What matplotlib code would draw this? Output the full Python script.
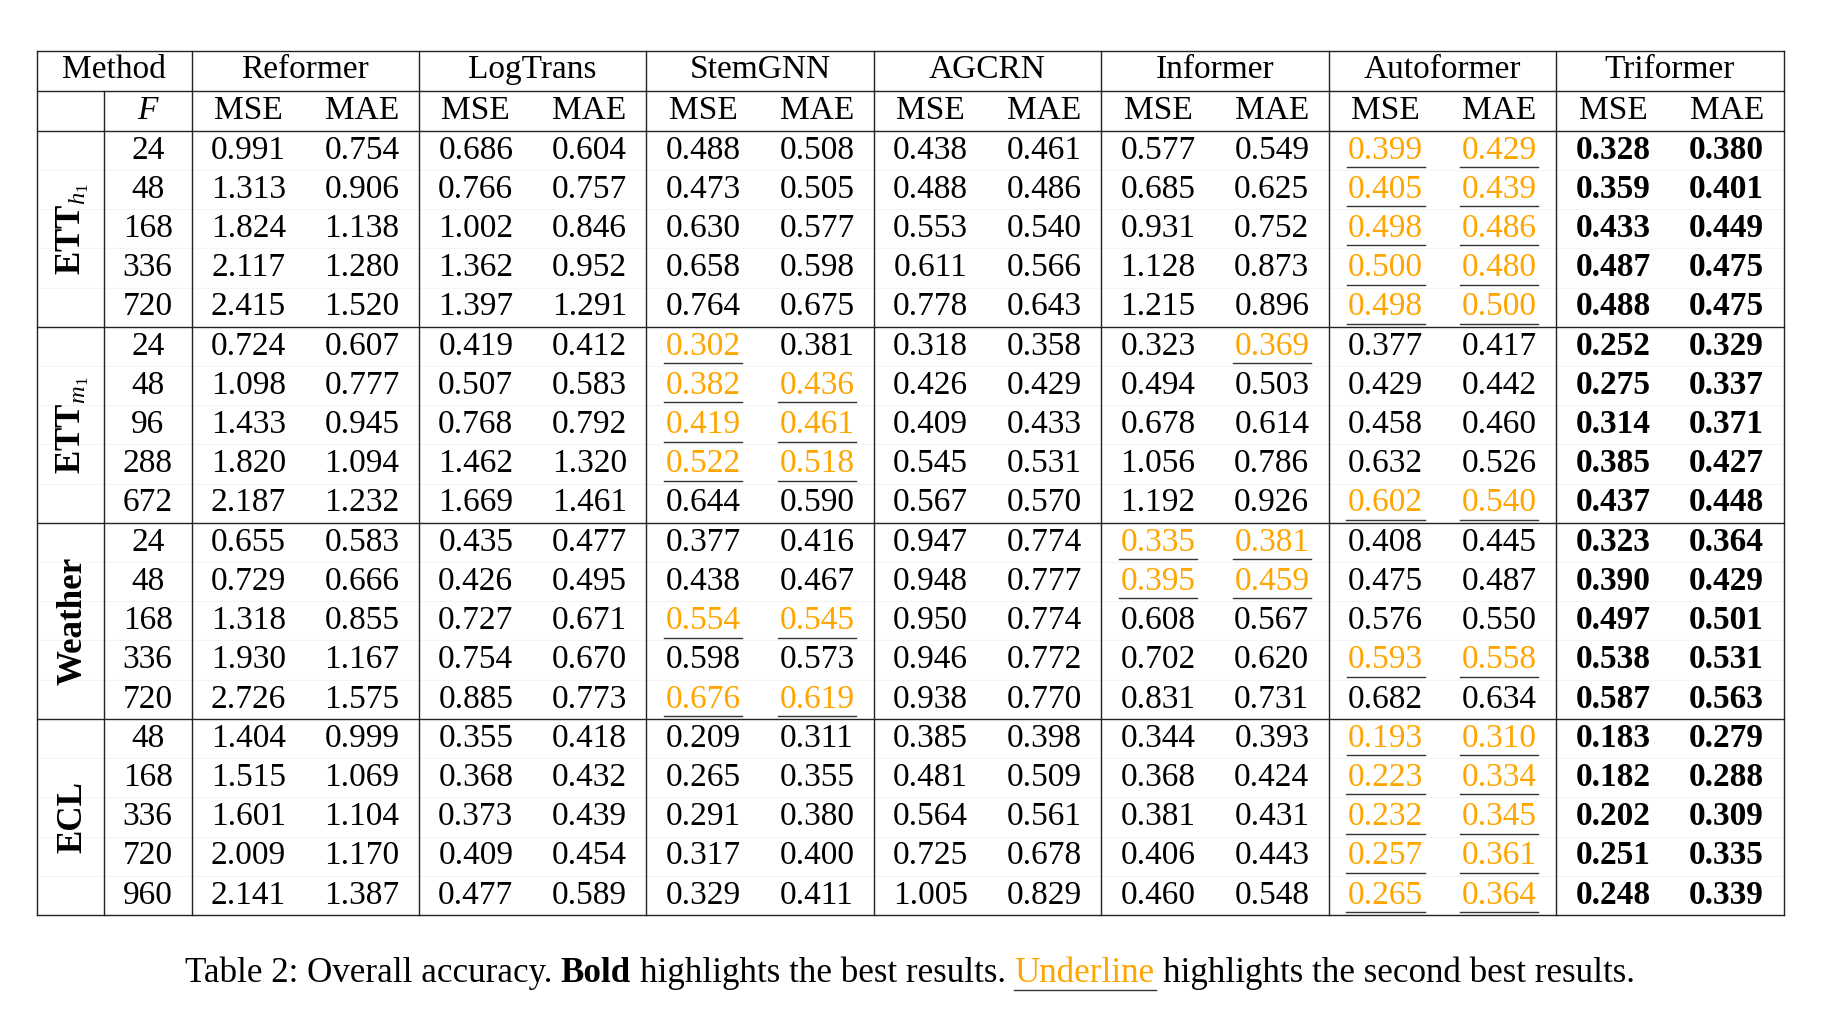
import matplotlib
matplotlib.use("Agg")
import matplotlib.pyplot as plt

plt.rcParams['font.family'] = ['Liberation Serif', 'DejaVu Serif']
plt.rcParams['mathtext.fontset'] = 'custom'
plt.rcParams['mathtext.rm'] = 'Liberation Serif'
plt.rcParams['mathtext.it'] = 'Liberation Serif:italic'
plt.rcParams['mathtext.bf'] = 'Liberation Serif:bold'

# ---------------- data ----------------
methods = ["Reformer", "LogTrans", "StemGNN", "AGCRN", "Informer", "Autoformer", "Triformer"]
metrics = ["MSE", "MAE"]
datasets = ["ETTh1", "ETTm1", "Weather", "ECL"]
dataset_labels = [r'$\mathbf{ETT}_{h_1}$', r'$\mathbf{ETT}_{m_1}$', 'Weather', 'ECL']

horizons_etth1 = [24, 48, 168, 336, 720]
horizons_ettm1 = [24, 48, 96, 288, 672]
horizons_weather = [24, 48, 168, 336, 720]
horizons_ecl = [48, 168, 336, 720, 960]

etth1_mse = {
    "Reformer": [0.991, 1.313, 1.824, 2.117, 2.415],
    "LogTrans": [0.686, 0.766, 1.002, 1.362, 1.397],
    "StemGNN": [0.488, 0.473, 0.630, 0.658, 0.764],
    "AGCRN": [0.438, 0.488, 0.553, 0.611, 0.778],
    "Informer": [0.577, 0.685, 0.931, 1.128, 1.215],
    "Autoformer": [0.399, 0.405, 0.498, 0.500, 0.498],
    "Triformer": [0.328, 0.359, 0.433, 0.487, 0.488],
}
etth1_mae = {
    "Reformer": [0.754, 0.906, 1.138, 1.280, 1.520],
    "LogTrans": [0.604, 0.757, 0.846, 0.952, 1.291],
    "StemGNN": [0.508, 0.505, 0.577, 0.598, 0.675],
    "AGCRN": [0.461, 0.486, 0.540, 0.566, 0.643],
    "Informer": [0.549, 0.625, 0.752, 0.873, 0.896],
    "Autoformer": [0.429, 0.439, 0.486, 0.480, 0.500],
    "Triformer": [0.380, 0.401, 0.449, 0.475, 0.475],
}
ettm1_mse = {
    "Reformer": [0.724, 1.098, 1.433, 1.820, 2.187],
    "LogTrans": [0.419, 0.507, 0.768, 1.462, 1.669],
    "StemGNN": [0.302, 0.382, 0.419, 0.522, 0.644],
    "AGCRN": [0.318, 0.426, 0.409, 0.545, 0.567],
    "Informer": [0.323, 0.494, 0.678, 1.056, 1.192],
    "Autoformer": [0.377, 0.429, 0.458, 0.632, 0.602],
    "Triformer": [0.252, 0.275, 0.314, 0.385, 0.437],
}
ettm1_mae = {
    "Reformer": [0.607, 0.777, 0.945, 1.094, 1.232],
    "LogTrans": [0.412, 0.583, 0.792, 1.320, 1.461],
    "StemGNN": [0.381, 0.436, 0.461, 0.518, 0.590],
    "AGCRN": [0.358, 0.429, 0.433, 0.531, 0.570],
    "Informer": [0.369, 0.503, 0.614, 0.786, 0.926],
    "Autoformer": [0.417, 0.442, 0.460, 0.526, 0.540],
    "Triformer": [0.329, 0.337, 0.371, 0.427, 0.448],
}
weather_mse = {
    "Reformer": [0.655, 0.729, 1.318, 1.930, 2.726],
    "LogTrans": [0.435, 0.426, 0.727, 0.754, 0.885],
    "StemGNN": [0.377, 0.438, 0.554, 0.598, 0.676],
    "AGCRN": [0.947, 0.948, 0.950, 0.946, 0.938],
    "Informer": [0.335, 0.395, 0.608, 0.702, 0.831],
    "Autoformer": [0.408, 0.475, 0.576, 0.593, 0.682],
    "Triformer": [0.323, 0.390, 0.497, 0.538, 0.587],
}
weather_mae = {
    "Reformer": [0.583, 0.666, 0.855, 1.167, 1.575],
    "LogTrans": [0.477, 0.495, 0.671, 0.670, 0.773],
    "StemGNN": [0.416, 0.467, 0.545, 0.573, 0.619],
    "AGCRN": [0.774, 0.777, 0.774, 0.772, 0.770],
    "Informer": [0.381, 0.459, 0.567, 0.620, 0.731],
    "Autoformer": [0.445, 0.487, 0.550, 0.558, 0.634],
    "Triformer": [0.364, 0.429, 0.501, 0.531, 0.563],
}
ecl_mse = {
    "Reformer": [1.404, 1.515, 1.601, 2.009, 2.141],
    "LogTrans": [0.355, 0.368, 0.373, 0.409, 0.477],
    "StemGNN": [0.209, 0.265, 0.291, 0.317, 0.329],
    "AGCRN": [0.385, 0.481, 0.564, 0.725, 1.005],
    "Informer": [0.344, 0.368, 0.381, 0.406, 0.460],
    "Autoformer": [0.193, 0.223, 0.232, 0.257, 0.265],
    "Triformer": [0.183, 0.182, 0.202, 0.251, 0.248],
}
ecl_mae = {
    "Reformer": [0.999, 1.069, 1.104, 1.170, 1.387],
    "LogTrans": [0.418, 0.432, 0.439, 0.454, 0.589],
    "StemGNN": [0.311, 0.355, 0.380, 0.400, 0.411],
    "AGCRN": [0.398, 0.509, 0.561, 0.678, 0.829],
    "Informer": [0.393, 0.424, 0.431, 0.443, 0.548],
    "Autoformer": [0.310, 0.334, 0.345, 0.361, 0.364],
    "Triformer": [0.279, 0.288, 0.309, 0.335, 0.339],
}

best_method = "Triformer"
# (dataset, method, metric, row indices) marked as second best (underlined)
second_best = [
    ("ETTh1", "Autoformer", "MSE", [0, 1, 2, 3, 4]),
    ("ETTh1", "Autoformer", "MAE", [0, 1, 2, 3, 4]),
    ("ETTm1", "StemGNN", "MSE", [0, 1, 2, 3]),
    ("ETTm1", "StemGNN", "MAE", [1, 2, 3]),
    ("ETTm1", "Informer", "MAE", [0]),
    ("ETTm1", "Autoformer", "MSE", [4]),
    ("ETTm1", "Autoformer", "MAE", [4]),
    ("Weather", "StemGNN", "MSE", [2, 4]),
    ("Weather", "StemGNN", "MAE", [2, 4]),
    ("Weather", "Informer", "MSE", [0, 1]),
    ("Weather", "Informer", "MAE", [0, 1]),
    ("Weather", "Autoformer", "MSE", [3]),
    ("Weather", "Autoformer", "MAE", [3]),
    ("ECL", "Autoformer", "MSE", [0, 1, 2, 3, 4]),
    ("ECL", "Autoformer", "MAE", [0, 1, 2, 3, 4]),
]

caption_parts = ["Table 2: Overall accuracy.", "Bold", "highlights the best results.",
                 "Underline", "highlights the second best results."]

all_horizons = [horizons_etth1, horizons_ettm1, horizons_weather, horizons_ecl]
all_values = {
    "ETTh1": {"MSE": etth1_mse, "MAE": etth1_mae},
    "ETTm1": {"MSE": ettm1_mse, "MAE": ettm1_mae},
    "Weather": {"MSE": weather_mse, "MAE": weather_mae},
    "ECL": {"MSE": ecl_mse, "MAE": ecl_mae},
}

# ---------------- layout ----------------
W, H = 1834, 1013
fig = plt.figure(figsize=(W / 100, H / 100), dpi=100)
ax = fig.add_axes([0, 0, 1, 1])
ax.set_xlim(0, W)
ax.set_ylim(H, 0)
ax.axis('off')

FS = 24
FS_LABEL = 25.2
FS_CAP = 25.2
ORANGE = '#FFA500'
LC = '#222222'
LW = 1.0

x_left, x_ds, x_f = 36.5, 104.0, 191.5
mw = (1783.5 - x_f) / len(methods)
y_top, y_h1, y_h2 = 50.5, 90.7, 130.7
n_rows = 5
rh = (915.0 - y_h2) / (len(datasets) * n_rows)
base_off = 27.8
x_right = x_f + mw * len(methods)
y_bottom = y_h2 + rh * n_rows * len(datasets)

# faint inner row lines
for g in range(len(datasets)):
    for r in range(1, n_rows):
        y = y_h2 + (g * n_rows + r) * rh
        ax.plot([x_left, x_right], [y, y], color='#f4f4f4', lw=0.8, zorder=1)

# horizontal rules
for y in [y_top, y_h1, y_h2] + [y_h2 + g * n_rows * rh for g in range(1, len(datasets) + 1)]:
    ax.plot([x_left, x_right], [y, y], color=LC, lw=LW, solid_capstyle='projecting', zorder=3)
# vertical rules
ax.plot([x_left, x_left], [y_top, y_bottom], color=LC, lw=LW, zorder=3)
ax.plot([x_ds, x_ds], [y_h1, y_bottom], color=LC, lw=LW, zorder=3)
for k in range(len(methods) + 1):
    x = x_f + k * mw
    ax.plot([x, x], [y_top, y_bottom], color=LC, lw=LW, zorder=3)

# headers
ax.text((x_left + x_f) / 2, y_top + base_off, "Method", ha='center', va='baseline', fontsize=FS)
ax.text((x_ds + x_f) / 2, y_h1 + base_off, "F", ha='center', va='baseline', fontsize=FS, style='italic')
for k, m in enumerate(methods):
    cx = x_f + k * mw
    ax.text(cx + mw / 2, y_top + base_off, m, ha='center', va='baseline', fontsize=FS)
    for j, met in enumerate(metrics):
        ax.text(cx + mw * (0.25 + 0.5 * j), y_h1 + base_off, met, ha='center', va='baseline', fontsize=FS)

# body
ul_texts = []
ul_lookup = {}
for ds, meth, met, rows in second_best:
    for r in rows:
        ul_lookup[(ds, meth, met, r)] = True

for g, ds in enumerate(datasets):
    gy0 = y_h2 + g * n_rows * rh
    label = dataset_labels[g]
    ax.text(73, gy0 + n_rows * rh / 2, label, rotation=90, ha='center', va='center',
            fontsize=FS_LABEL, fontweight='bold')
    for r in range(n_rows):
        yb = gy0 + r * rh + base_off
        ax.text((x_ds + x_f) / 2, yb, str(all_horizons[g][r]), ha='center', va='baseline', fontsize=FS)
        for k, m in enumerate(methods):
            for j, met in enumerate(metrics):
                v = all_values[ds][met][m][r]
                cx = x_f + k * mw + mw * (0.25 + 0.5 * j)
                is_ul = ul_lookup.get((ds, m, met, r), False)
                t = ax.text(cx, yb, f"{v:.3f}", ha='center', va='baseline', fontsize=FS,
                            fontweight='bold' if m == best_method else 'normal',
                            color=ORANGE if is_ul else 'black')
                if is_ul:
                    ul_texts.append((t, yb))

# caption
cap_y = 982
cap_styles = [('normal', 'black'), ('bold', 'black'), ('normal', 'black'),
              ('normal', ORANGE), ('normal', 'black')]
cap_texts = []
for part, (wt, col) in zip(caption_parts, cap_styles):
    cap_texts.append(ax.text(0, cap_y, part, ha='left', va='baseline', fontsize=FS_CAP,
                             fontweight=wt, color=col))

fig.canvas.draw()
renderer = fig.canvas.get_renderer()
inv = ax.transData.inverted()

def xspan(t):
    bb = t.get_window_extent(renderer)
    (x0, _), (x1, _) = inv.transform([(bb.x0, bb.y0), (bb.x1, bb.y1)])
    return x0, x1

space = 0.25 * FS_CAP * 100 / 72
widths = []
for t in cap_texts:
    a, b = xspan(t)
    widths.append(b - a)
total = sum(widths) + space * (len(widths) - 1)
x = (x_left + x_right) / 2 - total / 2
for t, w in zip(cap_texts, widths):
    t.set_x(x)
    x += w + space

for t, yb in ul_texts:
    a, b = xspan(t)
    ax.plot([a - 1.5, b + 1.5], [yb + 8.5, yb + 8.5], color='#333333', lw=1.0, zorder=4)

fig.canvas.draw()
a, b = xspan(cap_texts[3])
ax.plot([a - 1, b + 1], [cap_y + 8, cap_y + 8], color='#333333', lw=1.0)

fig.savefig("out.png", dpi=100, facecolor='white')
